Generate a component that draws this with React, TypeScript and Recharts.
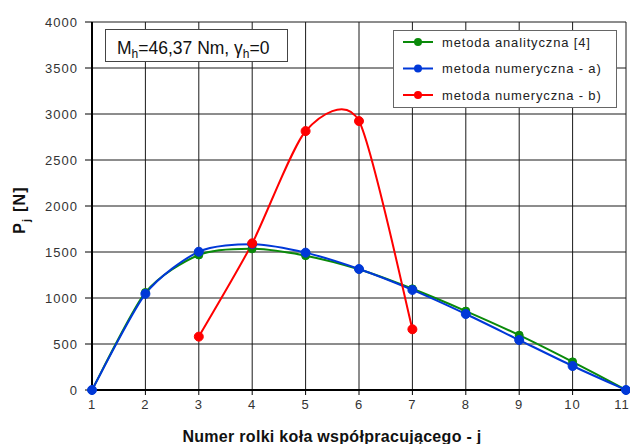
import React from 'react';
import { LineChart, Line, XAxis, YAxis, CartesianGrid, Customized } from 'recharts';

const rollers = [1, 2, 3, 4, 5, 6, 7, 8, 9, 10, 11];
const analytic = [0, 1060, 1467, 1535, 1460, 1312, 1100, 858, 596, 306, 0];
const numericA = [0, 1045, 1503, 1585, 1493, 1315, 1088, 826, 543, 261, 0];
const numericB: (number | null)[] = [null, null, 580, 1594, 2814, 2923, 660, null, null, null, null];
const yTicks = [0, 500, 1000, 1500, 2000, 2500, 3000, 3500, 4000];

const seriesInfo = [
  { key: 'a', name: 'metoda analityczna [4]', color: '#0a8a0a' },
  { key: 'b', name: 'metoda numeryczna - a)', color: '#0038d8' },
  { key: 'c', name: 'metoda numeryczna - b)', color: '#ff0000' },
];

const data = rollers.map((j, i) => ({ j, a: analytic[i], b: numericA[i], c: numericB[i] }));

const FONT = '"Liberation Sans", Arial, sans-serif';

// Excel-like smoothed curve (cardinal spline with reduced tension)
const smoothCurve = (s: number) => (context: any) => {
  let pts: number[][] = [];
  return {
    areaStart() {},
    areaEnd() {},
    lineStart() { pts = []; },
    lineEnd() {
      const n = pts.length;
      if (!n) return;
      context.moveTo(pts[0][0], pts[0][1]);
      for (let i = 0; i < n - 1; i++) {
        const p0 = pts[i - 1] || pts[i];
        const p1 = pts[i];
        const p2 = pts[i + 1];
        const p3 = pts[i + 2] || pts[i + 1];
        context.bezierCurveTo(
          p1[0] + (s * (p2[0] - p0[0])) / 6,
          p1[1] + (s * (p2[1] - p0[1])) / 6,
          p2[0] - (s * (p3[0] - p1[0])) / 6,
          p2[1] - (s * (p3[1] - p1[1])) / 6,
          p2[0],
          p2[1]
        );
      }
    },
    point(x: number, y: number) { pts.push([+x, +y]); },
  };
};
const curve = smoothCurve(0.75);

const XTick = (props: any) => {
  const { x, y, payload } = props;
  const cx = Math.min(x, 622);
  return (
    <text x={cx} y={y} dy="0.71em" textAnchor="middle" fontFamily={FONT} fontSize={13} letterSpacing={1} fill="#333">
      {payload.value}
    </text>
  );
};

const LegendBox = () => (
  <g fontFamily={FONT}>
    <rect x={393.5} y={30.5} width={223} height={77} fill="#fff" stroke="#666" strokeWidth={1} />
    {seriesInfo.map((s, i) => {
      const cy = 42 + i * 26.5;
      return (
        <g key={s.key}>
          <line x1={403} y1={cy} x2={433} y2={cy} stroke={s.color} strokeWidth={2} />
          <circle cx={418} cy={cy} r={4} fill={s.color} />
          <text x={442} y={cy + 4.5} fontSize={13} letterSpacing={0.85} fill="#222">{s.name}</text>
        </g>
      );
    })}
  </g>
);

const Annotation = () => (
  <g>
    <rect x={105.5} y={29.5} width={182} height={32} fill="#fff" stroke="#444" strokeWidth={1} />
    <text x={117} y={54} fontFamily={FONT} fontSize={17.5} fill="#111">
      M<tspan fontSize={12} dy={4}>h</tspan>
      <tspan dy={-4}>=46,37 Nm, γ</tspan>
      <tspan fontSize={12} dy={4}>h</tspan>
      <tspan dy={-4}>=0</tspan>
    </text>
  </g>
);

const AxisTitles = () => (
  <g fontFamily={FONT} fontWeight="bold" fill="#111">
    <text transform="translate(25,210) rotate(-90)" textAnchor="middle" fontSize={16} letterSpacing={1.2}>
      P<tspan fontSize={11} dy={5}>j</tspan>
      <tspan dy={-5}> [N]</tspan>
    </text>
    <text x={332} y={442} textAnchor="middle" fontSize={16} letterSpacing={0.3}>Numer rolki koła współpracującego - j</text>
  </g>
);

export default function App() {
  return (
    <div style={{ position: 'absolute', left: 0, top: 0, width: 630, height: 444, background: '#fff' }}>
      <LineChart width={630} height={444} data={data} margin={{ top: 22, right: 4, bottom: 0, left: 0 }}>
        <CartesianGrid stroke="#1a1a1a" strokeWidth={1} horizontalValues={yTicks} verticalValues={rollers} />
        <XAxis
          dataKey="j"
          type="number"
          domain={[1, 11]}
          ticks={rollers}
          height={54}
          interval={0}
          axisLine={{ stroke: '#000', strokeWidth: 2 }}
          tickLine={{ stroke: '#000' }}
          tickSize={5}
          tickMargin={5}
          tick={<XTick />}
        />
        <YAxis
          type="number"
          domain={[0, 4000]}
          ticks={yTicks}
          width={92}
          interval={0}
          axisLine={{ stroke: '#000', strokeWidth: 2 }}
          tickLine={{ stroke: '#000' }}
          tickSize={7}
          tickMargin={7}
          tick={{ fontFamily: FONT, fontSize: 13, fill: '#333', letterSpacing: 1 }}
        />
        <Line type={curve as any} dataKey="a" name={seriesInfo[0].name} stroke={seriesInfo[0].color} strokeWidth={2} dot={{ r: 4, fill: seriesInfo[0].color, stroke: seriesInfo[0].color, strokeWidth: 1 }} isAnimationActive={false} />
        <Line type={curve as any} dataKey="b" name={seriesInfo[1].name} stroke={seriesInfo[1].color} strokeWidth={2} dot={{ r: 4.5, fill: seriesInfo[1].color, stroke: seriesInfo[1].color, strokeWidth: 1 }} isAnimationActive={false} />
        <Line type={curve as any} dataKey="c" name={seriesInfo[2].name} stroke={seriesInfo[2].color} strokeWidth={2} dot={{ r: 4.5, fill: seriesInfo[2].color, stroke: seriesInfo[2].color, strokeWidth: 1 }} connectNulls={false} isAnimationActive={false} />
        <Customized component={Annotation} />
        <Customized component={LegendBox} />
        <Customized component={AxisTitles} />
      </LineChart>
    </div>
  );
}
